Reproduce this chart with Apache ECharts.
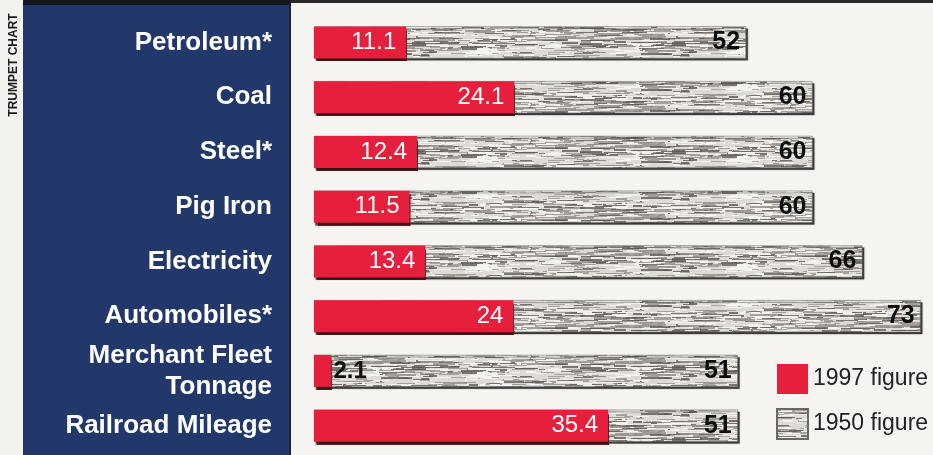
<!DOCTYPE html>
<html>
<head>
<meta charset="utf-8">
<script src="https://cdn.jsdelivr.net/npm/echarts@6/dist/echarts.min.js"></script>
<style>
  html, body { margin: 0; padding: 0; width: 933px; height: 455px; overflow: hidden; }
  #wrap { position: relative; width: 933px; height: 455px; background: #f5f4f1; }
  #strip { position: absolute; left: 0; top: 0; width: 23px; height: 455px; background: #f3f2ef; }
  #navy { position: absolute; left: 23px; top: 0; width: 268px; height: 455px; background: #22386b;
          border-top: 5px solid #15171c; box-sizing: border-box; border-right: 2px solid #1a2440; }
  #topline { position: absolute; left: 291px; top: 0; width: 642px; height: 3px; background: #2a2a2a; }
  #chart { position: absolute; left: 0; top: 0; width: 933px; height: 455px; }
</style>
</head>
<body>
<div id="wrap">
  <div id="strip"></div>
  <div id="navy"></div>
  <div id="topline"></div>
  <div id="chart"></div>
</div>
<script>
const categories = ['Petroleum*', 'Coal', 'Steel*', 'Pig Iron', 'Electricity', 'Automobiles*', 'Merchant Fleet\nTonnage', 'Railroad Mileage'];
const values1950 = [52, 60, 60, 60, 66, 73, 51, 51];
const values1997 = [11.1, 24.1, 12.4, 11.5, 13.4, 24, 2.1, 35.4];
const legendNames = ['1997 figure', '1950 figure'];
const sideTitle = 'TRUMPET CHART';

// Streaky grey texture for the 1950 bars (styling only, deterministic hash)
function makeTexture() {
  const c = document.createElement('canvas');
  c.width = 260; c.height = 36;
  const g = c.getContext('2d');
  g.fillStyle = '#dedbd6';
  g.fillRect(0, 0, c.width, c.height);
  let s = 12345;
  const h = () => { s = (s * 1103515245 + 12345) & 0x7fffffff; return s / 0x7fffffff; };
  for (let i = 0; i < 520; i++) {
    const x = Math.floor(h() * c.width);
    const y = Math.floor(h() * c.height);
    const w = 2 + Math.floor(h() * 26);
    const ht = h() < 0.7 ? 1 : 2;
    const t = h();
    let col;
    if (t < 0.35) col = 'rgba(245,244,240,0.95)';
    else if (t < 0.75) col = 'rgba(150,145,140,0.8)';
    else col = 'rgba(95,90,86,0.8)';
    g.fillStyle = col;
    g.fillRect(x, y, w, ht);
    if (x + w > c.width) g.fillRect(x - c.width, y, w, ht);
  }
  return c;
}
const tex = makeTexture();

const chart = echarts.init(document.getElementById('chart'), null, { renderer: 'canvas' });

const redData = values1997.map(v => v < 5 ? {
  value: v,
  label: { position: 'right', distance: 2, color: '#111', fontWeight: 'bold', fontSize: 24 }
} : v);

chart.setOption({
  backgroundColor: 'transparent',
  animation: false,
  graphic: [{
    type: 'text',
    x: 14, y: 65,
    rotation: Math.PI / 2,
    style: {
      text: sideTitle,
      fill: '#1a1a1a',
      font: 'bold 12px "Liberation Sans", Arial, sans-serif',
      align: 'center',
      verticalAlign: 'middle'
    }
  }],
  legend: {
    orient: 'vertical',
    left: 771,
    top: 359,
    itemWidth: 31,
    itemHeight: 30,
    itemGap: 14,
    icon: 'rect',
    data: legendNames,
    textStyle: { fontFamily: '"Liberation Sans", Arial, sans-serif', fontSize: 23, color: '#222' }
  },
  grid: { left: 314, right: 0, top: 15, bottom: 2 },
  xAxis: {
    type: 'value', min: 0, max: 74.5,
    show: false
  },
  yAxis: {
    type: 'category',
    data: categories,
    inverse: true,
    axisLine: { show: false },
    axisTick: { show: false },
    splitLine: { show: false },
    axisLabel: {
      margin: 42,
      color: '#ffffff',
      fontFamily: '"Liberation Sans", Arial, sans-serif',
      fontWeight: 'bold',
      fontSize: 26,
      lineHeight: 31
    }
  },
  series: [
    {
      name: '1950 figure',
      type: 'bar',
      data: values1950,
      barWidth: 32,
      barGap: '-100%',
      z: 2,
      itemStyle: {
        color: { image: tex, repeat: 'repeat' },
        borderColor: '#6b6762',
        borderWidth: 0.5,
        shadowColor: 'rgba(30,30,30,0.85)',
        shadowOffsetX: 2,
        shadowOffsetY: 2,
        shadowBlur: 1
      },
      label: {
        show: true,
        position: 'insideRight',
        distance: 6,
        color: '#0d0d0d',
        fontFamily: '"Liberation Sans", Arial, sans-serif',
        fontWeight: 'bold',
        fontSize: 25
      }
    },
    {
      name: '1997 figure',
      type: 'bar',
      data: redData,
      barWidth: 32,
      z: 3,
      itemStyle: {
        color: '#e61f3d',
        shadowColor: 'rgba(60,10,15,0.9)',
        shadowOffsetX: 1,
        shadowOffsetY: 3,
        shadowBlur: 1
      },
      label: {
        show: true,
        position: 'insideRight',
        distance: 10,
        color: '#ffffff',
        fontFamily: '"Liberation Sans", Arial, sans-serif',
        fontSize: 24
      }
    }
  ]
});
</script>
</body>
</html>
